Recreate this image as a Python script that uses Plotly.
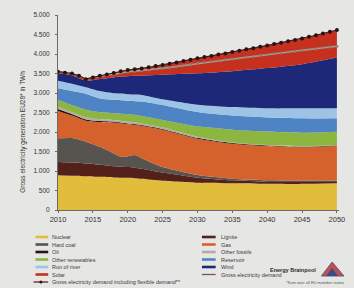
import plotly.graph_objects as go

# ---------------- data (TWh) ----------------
years = [2010, 2012, 2014, 2016, 2018, 2019, 2020, 2021, 2022, 2025, 2030, 2035, 2040, 2045, 2050]

nuclear = [890, 880, 865, 850, 835, 830, 825, 815, 800, 750, 700, 688, 675, 670, 684]
lignite = [340, 335, 325, 310, 285, 280, 275, 270, 260, 210, 130, 72, 45, 45, 36]
hard_coal = [607, 630, 562, 460, 330, 257, 280, 325, 270, 140, 65, 40, 40, 40, 35]
gas = [703, 575, 538, 635, 790, 855, 820, 775, 830, 960, 935, 900, 880, 855, 886]
oil = [50, 40, 30, 25, 22, 20, 20, 20, 20, 20, 20, 15, 12, 12, 12]
other_fossils = [60, 50, 60, 50, 48, 48, 50, 45, 40, 40, 30, 15, 13, 18, 14]
other_renewables = [170, 180, 190, 175, 170, 180, 185, 190, 190, 190, 265, 330, 345, 343, 342]
reservoir = [300, 360, 410, 355, 345, 345, 345, 350, 370, 380, 365, 360, 360, 367, 341]
run_of_river = [196, 190, 170, 190, 170, 170, 170, 170, 170, 150, 190, 220, 237, 257, 257]
wind = [184, 210, 170, 310, 405, 435, 460, 480, 500, 630, 804, 920, 1033, 1133, 1303]
solar = [48, 50, 35, 80, 110, 140, 160, 170, 180, 250, 386, 490, 580, 660, 705]

demand_years = list(range(2010, 2051))
demand_flexible = [3548, 3520, 3500, 3440, 3355, 3400, 3440, 3475, 3510, 3560,
                   3590, 3610, 3630, 3660, 3690, 3720, 3750, 3785, 3820, 3855,
                   3890, 3920, 3950, 3985, 4015, 4050, 4085, 4120, 4150, 4185,
                   4220, 4255, 4290, 4325, 4360, 4400, 4440, 4480, 4525, 4570, 4615]
demand_gross = [3548, 3520, 3500, 3440, 3355, 3395, 3430, 3455, 3480, 3520,
                3545, 3560, 3575, 3595, 3615, 3635, 3655, 3680, 3705, 3730,
                3760, 3780, 3800, 3825, 3850, 3870, 3890, 3915, 3935, 3960,
                3980, 4005, 4025, 4050, 4070, 4095, 4115, 4135, 4160, 4180, 4200]

y_ticks = [0, 500, 1000, 1500, 2000, 2500, 3000, 3500, 4000, 4500, 5000]
y_tick_labels = ["0", "500", "1.000", "1.500", "2.000", "2.500", "3.000", "3.500", "4.000", "4.500", "5.000"]
x_ticks = [2010, 2015, 2020, 2025, 2030, 2035, 2040, 2045, 2050]

series = [
    ("Nuclear", nuclear, "#e2bd3c"),
    ("Lignite", lignite, "#54201a"),
    ("Hard coal", hard_coal, "#57534f"),
    ("Gas", gas, "#d5622c"),
    ("Oil", oil, "#2b1612"),
    ("Other fossils", other_fossils, "#b4aca6"),
    ("Other renewables", other_renewables, "#8cb640"),
    ("Reservoir", reservoir, "#4e84c4"),
    ("Run of river", run_of_river, "#9dc4e6"),
    ("Wind", wind, "#1e2878"),
    ("Solar", solar, "#c5301f"),
]
gross_name = "Gross electricity demand"
flex_name = "Gross electricity demand including flexible demand**"

# ---------------- figure ----------------
W, H = 354, 288
ML, MR, MT, MB = 58, 9, 15, 78
PW, PH = W - ML - MR, H - MT - MB

fig = go.Figure()
for name, vals, col in series:
    fig.add_trace(go.Scatter(
        x=years, y=vals, name=name, stackgroup="gen", mode="lines",
        line=dict(width=0, color=col, shape="spline", smoothing=0.6),
        fillcolor=col, showlegend=False, hoverinfo="skip"))

fig.add_trace(go.Scatter(
    x=demand_years, y=demand_gross, name=gross_name, mode="lines+markers",
    line=dict(color="#a89f94", width=1.6),
    marker=dict(size=3, color="#8a8276"), showlegend=False))
fig.add_trace(go.Scatter(
    x=demand_years, y=demand_flexible, name=flex_name, mode="lines+markers",
    line=dict(color="#4a1a18", width=1.2),
    marker=dict(size=4, color="#251514"), showlegend=False))

font_fam = "Liberation Sans, Arial, sans-serif"


def px(xp):
    return (xp - ML) / PW


def py(yp):
    return (H - MB - yp) / PH


shapes = []
annotations = []

# manual legend (two columns)
left_items = [series[0], series[2], series[4], series[6], series[8], series[10]]
right_items = [series[1], series[3], series[5], series[7], series[9]]
row_y = [237, 244.5, 252, 259.5, 267, 274.5, 282]

for i, (name, _, col) in enumerate(left_items):
    yy = row_y[i]
    shapes.append(dict(type="line", xref="paper", yref="paper",
                       x0=px(35), x1=px(48), y0=py(yy), y1=py(yy),
                       line=dict(color=col, width=2.6)))
    annotations.append(dict(text=name, xref="paper", yref="paper", x=px(50), y=py(yy),
                            xanchor="left", yanchor="middle", showarrow=False,
                            font=dict(size=5.5, color="#3a3a3a", family=font_fam)))
for i, (name, _, col) in enumerate(right_items):
    yy = row_y[i]
    shapes.append(dict(type="line", xref="paper", yref="paper",
                       x0=px(205), x1=px(219), y0=py(yy), y1=py(yy),
                       line=dict(color=col, width=2.6)))
    annotations.append(dict(text=name, xref="paper", yref="paper", x=px(222), y=py(yy),
                            xanchor="left", yanchor="middle", showarrow=False,
                            font=dict(size=5.5, color="#3a3a3a", family=font_fam)))
# demand legend entries
yy = row_y[6]
shapes.append(dict(type="line", xref="paper", yref="paper",
                   x0=px(33), x1=px(48), y0=py(yy), y1=py(yy),
                   line=dict(color="#6a2420", width=1.3)))
shapes.append(dict(type="circle", xref="paper", yref="paper",
                   x0=px(39), x1=px(42), y0=py(yy + 1.5), y1=py(yy - 1.5),
                   fillcolor="#251514", line=dict(width=0)))
annotations.append(dict(text=flex_name, xref="paper", yref="paper", x=px(50), y=py(yy),
                        xanchor="left", yanchor="middle", showarrow=False,
                        font=dict(size=5.5, color="#3a3a3a", family=font_fam)))
yy = row_y[5]
shapes.append(dict(type="line", xref="paper", yref="paper",
                   x0=px(205), x1=px(219), y0=py(yy), y1=py(yy),
                   line=dict(color="#7a5a50", width=1.3)))
annotations.append(dict(text=gross_name, xref="paper", yref="paper", x=px(222), y=py(yy),
                        xanchor="left", yanchor="middle", showarrow=False,
                        font=dict(size=5.5, color="#3a3a3a", family=font_fam)))

# y-axis title
annotations.append(dict(text="Gross electricity generation EU28* in TWh",
                        xref="paper", yref="paper", x=px(22), y=py(132),
                        textangle=-90, showarrow=False, xanchor="center", yanchor="middle",
                        font=dict(size=6.5, color="#333333", family=font_fam)))

# logo
annotations.append(dict(text="<b>Energy Brainpool</b>", xref="paper", yref="paper",
                        x=px(324), y=py(270), xanchor="right", yanchor="middle",
                        showarrow=False, font=dict(size=5.5, color="#2a2a2a", family=font_fam)))
annotations.append(dict(text="*Sum over all EU member states", xref="paper", yref="paper",
                        x=px(352), y=py(282), xanchor="right", yanchor="middle",
                        showarrow=False, font=dict(size=4, color="#555555", family=font_fam)))
shapes.append(dict(type="path", xref="paper", yref="paper",
                   path="M {a},{b} L {c},{d} L {e},{b} Z".format(
                       a=px(327), b=py(276), c=px(338), d=py(262), e=px(350)),
                   fillcolor="#c0504a", line=dict(color="#5a5a8a", width=1)))
shapes.append(dict(type="path", xref="paper", yref="paper",
                   path="M {a},{b} L {c},{d} L {e},{b} Z".format(
                       a=px(332), b=py(276), c=px(338), d=py(268), e=px(344)),
                   fillcolor="#3a4a8a", line=dict(width=0)))

fig.update_layout(
    width=W, height=H,
    margin=dict(l=ML, r=MR, t=MT, b=MB),
    paper_bgcolor="#e6e6e4", plot_bgcolor="#e6e6e4",
    font=dict(family=font_fam, color="#333333", size=7),
    showlegend=False,
    shapes=shapes, annotations=annotations,
    xaxis=dict(range=[2010, 2050.3], tickvals=x_ticks, showgrid=False, zeroline=False,
               showline=True, linecolor="#6a6a6a", linewidth=1,
               ticks="outside", ticklen=2, tickcolor="#6a6a6a",
               tickfont=dict(size=7.5, color="#333333", family=font_fam)),
    yaxis=dict(range=[0, 5000], tickvals=y_ticks, ticktext=y_tick_labels,
               showgrid=False, zeroline=False,
               showline=True, linecolor="#6a6a6a", linewidth=1,
               ticks="outside", ticklen=2, tickcolor="#6a6a6a",
               ticklabelstandoff=4,
               tickfont=dict(size=6.5, color="#333333", family=font_fam)),
)

fig.write_html("out.html",
               config={"displayModeBar": False},
               post_script="document.body.style.margin='0';document.body.style.overflow='hidden';")
